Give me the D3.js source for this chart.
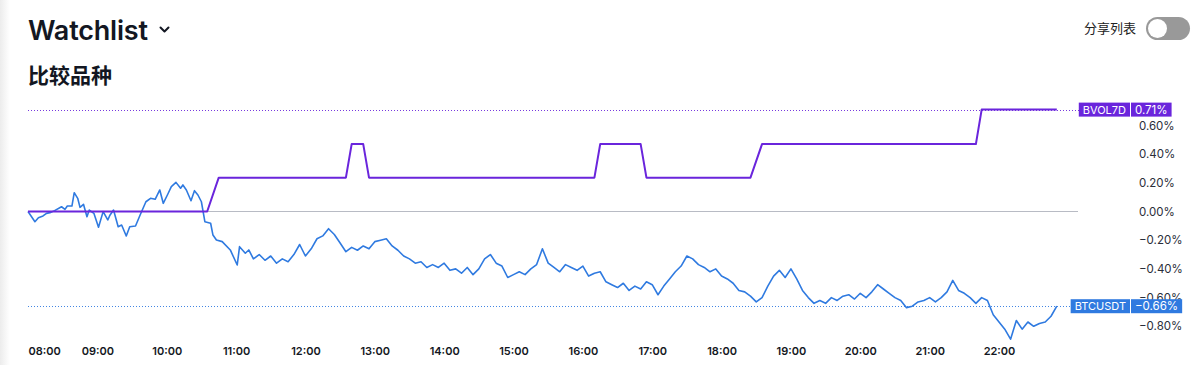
<!DOCTYPE html>
<html><head><meta charset="utf-8">
<script src="https://cdn.jsdelivr.net/npm/d3@7/dist/d3.min.js"></script>
<style>
html,body{margin:0;padding:0;background:#fff;}
svg{display:block;font-family:"Inter","Roboto","Noto Sans","Noto Sans CJK SC",sans-serif;}
</style></head>
<body>
<svg id="chart" width="1200" height="365"></svg>
<script>
// ---- data ----
const title = "Watchlist";
const subtitle = "比较品种";
const shareLabel = "分享列表";
const xTickLabels = ["08:00","09:00","10:00","11:00","12:00","13:00","14:00","15:00","16:00","17:00","18:00","19:00","20:00","21:00","22:00"];
const yTickValues = [0.6,0.4,0.2,0,-0.2,-0.4,-0.6,-0.8];
const seriesNames = ["BVOL7D","BTCUSDT"];
const lastValues = [0.71,-0.66];
// BVOL7D: minutes after 08:00, % change
const bvolMinutes = [0,155,165,275,280,290,295,490,495,530,535,625,635,820,825,890];
const bvolValues  = [0,0,0.236,0.236,0.47,0.47,0.236,0.236,0.47,0.47,0.236,0.236,0.47,0.47,0.71,0.71];
// BTCUSDT: minutes after 08:00, % change
const btcMinutes = [0,6,9,13,16,19,23,29,32,34,38,40,43,45,48,51,53,57,61,65,69,71,74,78,81,85,88,93,97,102,106,110,114,117,121,124,128,132,134,137,141,144,147,150,153,158,160,163,168,175,181,183,188,191,
  195,200,205,210,215,220,225,230,235,240,245,250,255,260,265,270,275,280,285,290,295,300,305,310,315,320,325,330,335,340,345,350,355,360,365,370,375,380,385,390,395,400,405,410,415,420,425,430,435,440,445,450,455,460,465,470,475,480,485,490,495,500,505,510,515,520,525,530,535,540,545,550,555,560,565,570,575,580,585,590,595,600,605,610,615,620,625,630,635,640,645,650,655,660,665,670,675,680,685,690,695,700,705,710,715,720,725,730,735,740,745,750,755,760,765,770,775,780,785,790,795,800,805,810,815,820,825,830,835,840,845,850,855,860,865,870,875,880,885,890];
const btcValues = [0,-0.071,-0.043,-0.031,-0.013,-0.008,0.006,0.033,0.015,0.038,0.038,0.131,0.092,0.029,0.050,-0.036,0.010,-0.013,-0.110,-0.001,-0.059,-0.024,0.010,-0.106,-0.094,-0.171,-0.106,-0.101,-0.024,0.068,0.092,0.085,0.150,0.057,0.122,0.173,0.203,0.162,0.185,0.150,0.075,0.145,0.115,0.068,-0.071,-0.082,-0.164,-0.199,-0.210,-0.268,-0.373,-0.245,-0.291,-0.268,
  -0.33,-0.30,-0.34,-0.31,-0.36,-0.33,-0.35,-0.30,-0.23,-0.31,-0.26,-0.19,-0.17,-0.12,-0.16,-0.22,-0.28,-0.25,-0.27,-0.24,-0.26,-0.21,-0.20,-0.19,-0.24,-0.27,-0.31,-0.33,-0.36,-0.35,-0.39,-0.37,-0.39,-0.36,-0.41,-0.40,-0.43,-0.39,-0.44,-0.40,-0.33,-0.30,-0.36,-0.38,-0.46,-0.44,-0.42,-0.44,-0.40,-0.37,-0.26,-0.36,-0.39,-0.42,-0.37,-0.39,-0.41,-0.38,-0.45,-0.43,-0.42,-0.49,-0.51,-0.53,-0.50,-0.55,-0.52,-0.54,-0.49,-0.51,-0.58,-0.52,-0.47,-0.42,-0.38,-0.31,-0.33,-0.37,-0.39,-0.42,-0.40,-0.45,-0.47,-0.50,-0.55,-0.56,-0.59,-0.63,-0.60,-0.52,-0.45,-0.41,-0.46,-0.40,-0.47,-0.55,-0.60,-0.64,-0.62,-0.64,-0.60,-0.62,-0.59,-0.58,-0.61,-0.57,-0.60,-0.56,-0.51,-0.54,-0.57,-0.60,-0.62,-0.67,-0.66,-0.63,-0.62,-0.60,-0.63,-0.60,-0.56,-0.48,-0.55,-0.57,-0.60,-0.64,-0.60,-0.62,-0.72,-0.77,-0.82,-0.89,-0.76,-0.82,-0.77,-0.80,-0.78,-0.77,-0.73,-0.66];

// ---- styles ----
const purple = "#6a25dc";
const blue = "#2f7ae0";
const textColor = "#131722";

const svg = d3.select("#chart");
const base = new Date(2024,0,1,8,0,0);
const toDate = m => new Date(base.getTime() + m*60000);

const x = d3.scaleTime()
  .domain([toDate(0), toDate(14*60)])
  .range([28, 999]);
const y = d3.scaleLinear().domain([-0.8, 0.6]).range([326.3, 125.4]);

// left edge shade
const defs = svg.append("defs");
const g0 = defs.append("linearGradient").attr("id","edge").attr("x1","0").attr("x2","1");
g0.append("stop").attr("offset","0").attr("stop-color","#ececec");
g0.append("stop").attr("offset","1").attr("stop-color","#ffffff");
svg.append("rect").attr("x",0).attr("y",0).attr("width",10).attr("height",365).attr("fill","url(#edge)");

// header
svg.append("text").attr("x",28).attr("y",40).text(title)
  .attr("font-size",27).attr("font-weight",600).attr("fill",textColor).attr("letter-spacing","-0.2");
svg.append("path").attr("d","M160.5,27.5 L164.5,31.5 L168.5,27.5").attr("fill","none")
  .attr("stroke",textColor).attr("stroke-width",2).attr("stroke-linecap","round").attr("stroke-linejoin","round");
svg.append("text").attr("x",28).attr("y",83).text(subtitle)
  .attr("font-family","Noto Sans CJK SC").attr("font-size",21).attr("font-weight",600).attr("fill",textColor);
svg.append("text").attr("x",1136).attr("y",33).attr("text-anchor","end").text(shareLabel)
  .attr("font-family","Noto Sans CJK SC").attr("font-size",13).attr("fill","#222");
svg.append("rect").attr("x",1146).attr("y",17).attr("width",44).attr("height",23).attr("rx",11.5).attr("fill","#999");
svg.append("circle").attr("cx",1157.5).attr("cy",28.5).attr("r",9.5).attr("fill","#fff");

// zero line
svg.append("line").attr("x1",x(toDate(0))).attr("x2",1078).attr("y1",y(0)).attr("y2",y(0))
  .attr("stroke","#b8bbc4").attr("stroke-width",1);

// dotted last-value lines
const colors = [purple, blue];
lastValues.forEach((v,i)=>{
  svg.append("line").attr("x1",x(toDate(0))).attr("x2",1080)
    .attr("y1",Math.round(y(v))+0.5).attr("y2",Math.round(y(v))+0.5)
    .attr("stroke",colors[i]).attr("stroke-width",1).attr("stroke-dasharray","1 2").attr("opacity",0.9);
});

// y axis
const yAxis = d3.axisRight(y).tickValues(yTickValues).tickSize(0).tickPadding(0)
  .tickFormat(d => (d<0?"\u2212":"") + Math.abs(d).toFixed(2) + "%");
const ya = svg.append("g").attr("transform","translate(1139,0)").call(yAxis);
ya.select(".domain").remove();
ya.selectAll("text").attr("font-size",11.5).attr("fill","#2a2e39").attr("font-family","Inter,Roboto,sans-serif");

// x axis
const xAxis = d3.axisBottom(x).tickValues(xTickLabels.map((t,i)=>toDate(i*60)))
  .tickSize(0).tickPadding(0).tickFormat((d,i)=>xTickLabels[i]);
const xa = svg.append("g").attr("transform","translate(0,347)").call(xAxis);
xa.select(".domain").remove();
xa.selectAll("text").attr("font-size",11).attr("font-weight",600).attr("fill",textColor)
  .attr("font-family","Inter,Roboto,sans-serif");
xa.selectAll("text").filter((d,i)=>i===0).attr("text-anchor","start");

// lines
const line = d3.line().x(d=>x(toDate(d[0]))).y(d=>y(d[1]));
const btc = btcMinutes.map((m,i)=>[m, btcValues[i]]);
const bvol = bvolMinutes.map((m,i)=>[m, bvolValues[i]]);
svg.append("path").datum(btc).attr("d",line).attr("fill","none").attr("stroke",blue)
  .attr("stroke-width",1.6).attr("stroke-linejoin","round");
svg.append("path").datum(bvol).attr("d",line).attr("fill","none").attr("stroke",purple)
  .attr("stroke-width",2).attr("stroke-linejoin","round");

// last value labels
const labelNameRight = 1130;
lastValues.forEach((v,i)=>{
  const cy = y(v);
  const g = svg.append("g");
  const name = g.append("text").attr("x",labelNameRight-4).attr("y",cy+4).attr("text-anchor","end")
    .attr("font-size",11).attr("fill","#fff").text(seriesNames[i]).attr("font-family","Inter,Roboto,sans-serif");
  const w1 = name.node().getComputedTextLength();
  g.insert("rect","text").attr("x",labelNameRight-w1-8).attr("y",cy-7).attr("width",w1+8).attr("height",14).attr("fill",colors[i]);
  const valStr = (v<0?"\u2212":"") + Math.abs(v).toFixed(2) + "%";
  const val = g.append("text").attr("x",labelNameRight+5).attr("y",cy+4).attr("font-size",11.5)
    .attr("fill","#fff").text(valStr).attr("font-family","Inter,Roboto,sans-serif");
  const w2 = val.node().getComputedTextLength();
  g.insert("rect","text").attr("x",labelNameRight+1).attr("y",cy-7).attr("width",w2+8).attr("height",14).attr("fill",colors[i]);
});
</script>
</body></html>
